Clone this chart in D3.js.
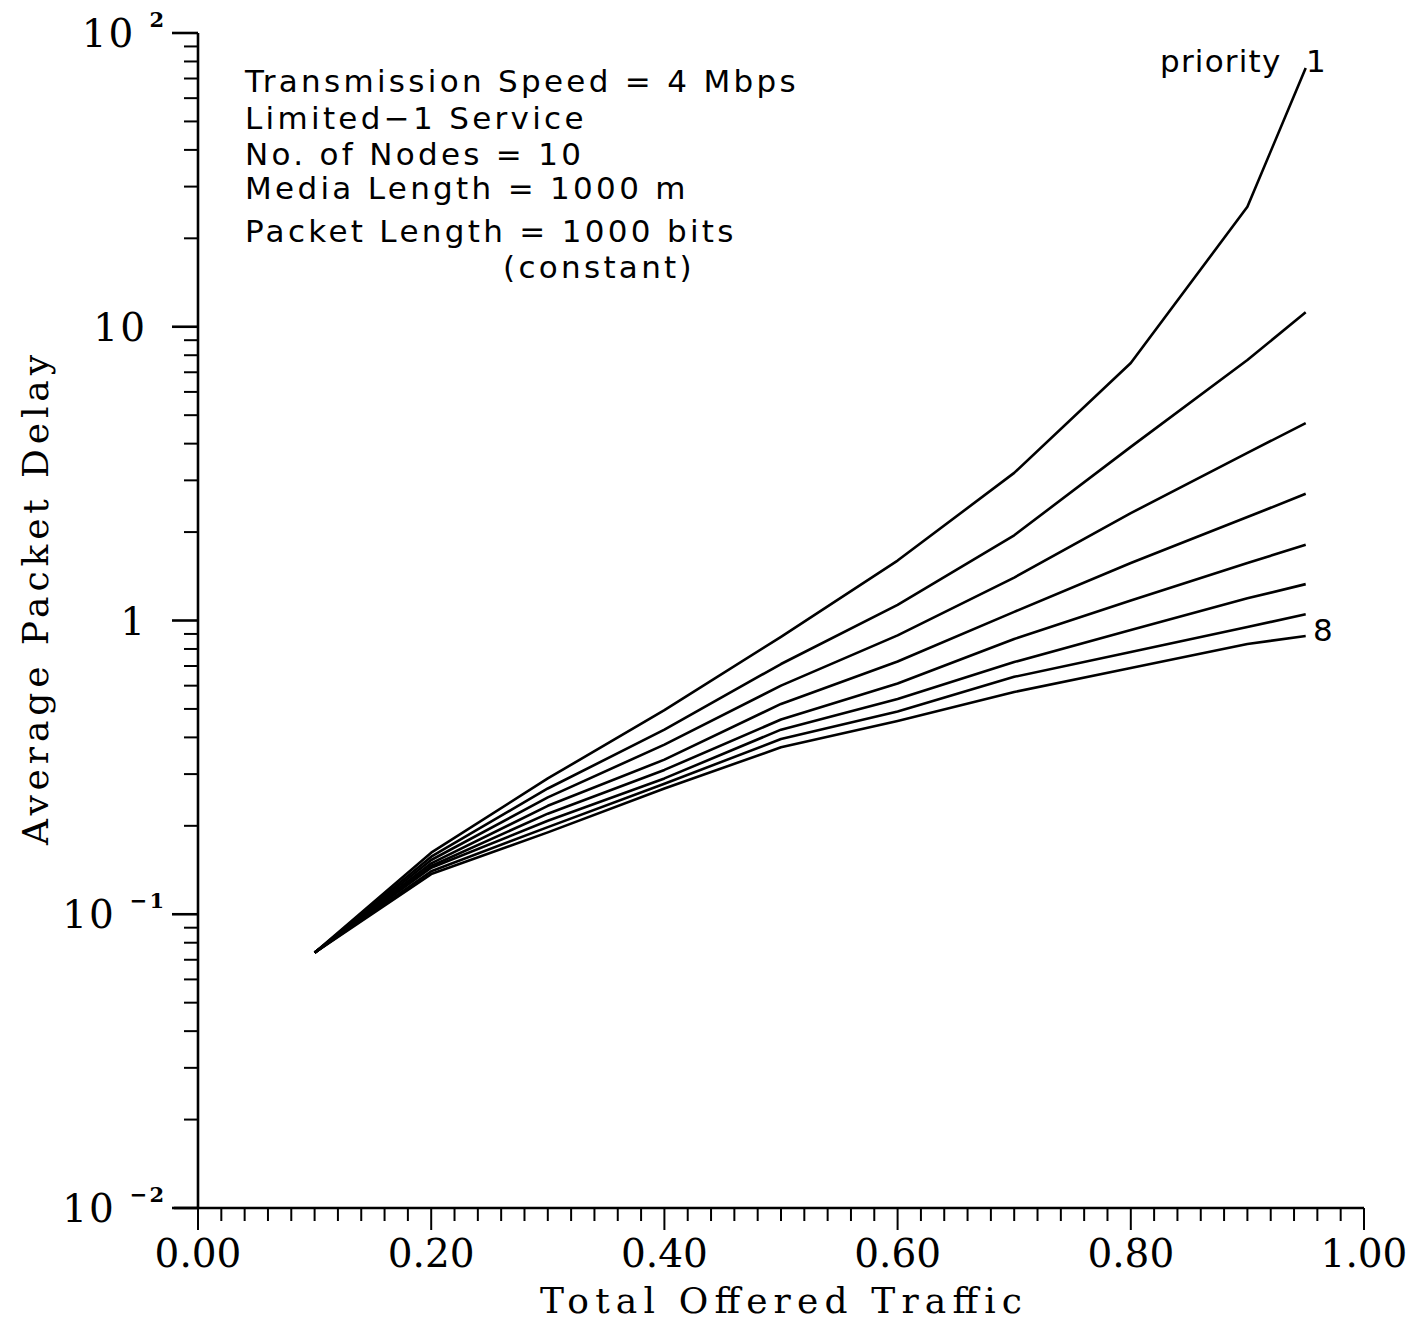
<!DOCTYPE html>
<html lang="en">
<head>
<meta charset="UTF-8">
<title>Average Packet Delay vs Total Offered Traffic</title>
<script src="https://d3js.org/d3.v7.min.js"></script>
<style>
    body { margin: 0; background: #fff; }
    svg { display: block; }
    .tick-label { font-family: "DejaVu Serif", serif; font-size: 39px; fill: #000; }
    .axis-title { font-family: "DejaVu Serif", serif; font-size: 36px; fill: #000; }
    .note { font-family: "DejaVu Sans", sans-serif; font-size: 31px; fill: #000; }
    .curve { fill: none; stroke: #000; stroke-width: 2.6px; stroke-linejoin: round; }
    .axis-line { stroke: #000; stroke-width: 2.6px; }
</style>
</head>
<body>
<svg id="chart" width="1407" height="1326"></svg>
<script>
// --- data ---
const traffic = [0.10, 0.20, 0.30, 0.40, 0.50, 0.60, 0.70, 0.80, 0.90, 0.95];

const priority1 = [0.074, 0.162, 0.290, 0.495, 0.880, 1.60, 3.18, 7.53, 25.6, 76];
const priority2 = [0.074, 0.157, 0.268, 0.425, 0.711, 1.13, 1.95, 3.90, 7.71, 11.2];
const priority3 = [0.074, 0.153, 0.250, 0.378, 0.600, 0.890, 1.40, 2.32, 3.72, 4.70];
const priority4 = [0.074, 0.149, 0.234, 0.336, 0.520, 0.725, 1.07, 1.57, 2.25, 2.70];
const priority5 = [0.074, 0.146, 0.220, 0.310, 0.460, 0.610, 0.865, 1.17, 1.57, 1.81];
const priority6 = [0.074, 0.144, 0.208, 0.290, 0.425, 0.540, 0.722, 0.929, 1.19, 1.33];
const priority7 = [0.074, 0.140, 0.198, 0.278, 0.395, 0.490, 0.643, 0.781, 0.950, 1.05];
const priority8 = [0.074, 0.137, 0.190, 0.268, 0.370, 0.455, 0.571, 0.689, 0.832, 0.885];

const series = [priority1, priority2, priority3, priority4, priority5, priority6, priority7, priority8];

const xMajorTicks = [0, 0.2, 0.4, 0.6, 0.8, 1.0];
const yMajorTicks = [0.01, 0.1, 1, 10, 100];
const yTickBase = ["10", "10", "1", "10", "10"];
const yTickExp = ["\u22122", "\u22121", "", "", "2"];

const noteLines = [
    "Transmission Speed = 4 Mbps",
    "Limited\u22121 Service",
    "No. of Nodes = 10",
    "Media Length = 1000 m",
    "Packet Length = 1000 bits",
    "(constant)"
];

const xTitle = "Total Offered Traffic";
const yTitle = "Average Packet Delay";

// --- scales ---
const svg = d3.select("#chart");
const x = d3.scaleLinear().domain([0, 1]).range([198, 1364]);
const y = d3.scaleLog().domain([0.01, 100]).range([1208, 33]);

// axis lines
svg.append("line").attr("class", "axis-line")
    .attr("x1", x(0)).attr("x2", x(0)).attr("y1", y(100)).attr("y2", y(0.01));
svg.append("line").attr("class", "axis-line")
    .attr("x1", x(0) - 24).attr("x2", x(1)).attr("y1", y(0.01)).attr("y2", y(0.01));

// x ticks (every 0.02, longer at 0.2)
const xMinor = d3.range(0, 51).map(i => i * 0.02);
svg.selectAll(".xtick").data(xMinor).enter().append("line")
    .attr("class", "axis-line")
    .style("stroke-width", "2px")
    .attr("x1", d => x(d)).attr("x2", d => x(d))
    .attr("y1", y(0.01))
    .attr("y2", (d, i) => y(0.01) + (i % 10 === 0 ? 22 : 13));

svg.selectAll(".xlabel").data(xMajorTicks).enter().append("text")
    .attr("class", "tick-label")
    .attr("x", d => x(d)).attr("y", 1267)
    .attr("text-anchor", "middle")
    .text(d => d3.format(".2f")(d));

// y ticks: decades plus 2..9 minors
const yMinor = [];
for (let e = -2; e < 2; e++) {
    for (let m = 2; m <= 9; m++) yMinor.push(m * Math.pow(10, e));
}
svg.selectAll(".ymin").data(yMinor).enter().append("line")
    .attr("class", "axis-line")
    .style("stroke-width", "2px")
    .attr("x1", x(0) - 14).attr("x2", x(0))
    .attr("y1", d => y(d)).attr("y2", d => y(d));
svg.selectAll(".ymaj").data(yMajorTicks).enter().append("line")
    .attr("class", "axis-line")
    .attr("x1", x(0) - 26).attr("x2", x(0))
    .attr("y1", d => y(d)).attr("y2", d => y(d));

const expOf = d => yTickExp[yMajorTicks.indexOf(d)];
const baseOf = d => yTickBase[yMajorTicks.indexOf(d)];

const yl = svg.selectAll(".ylabel").data(yMajorTicks).enter().append("text")
    .attr("class", "tick-label")
    .attr("text-anchor", "end")
    .attr("x", d => expOf(d) ? 166 : 147)
    .attr("y", d => y(d) + 14)
    .style("letter-spacing", "2px");
yl.append("tspan").text(baseOf);
yl.filter(d => expOf(d) !== "")
    .append("tspan")
    .attr("dx", 14).attr("dy", -20)
    .style("font-size", "21px")
    .style("font-weight", "bold")
    .text(expOf);

// axis titles
svg.append("text").attr("class", "axis-title")
    .attr("x", 781).attr("y", 1313)
    .attr("text-anchor", "middle")
    .attr("textLength", 482).attr("lengthAdjust", "spacing")
    .text(xTitle);
svg.append("text").attr("class", "axis-title")
    .attr("transform", "translate(48,600) rotate(-90)")
    .attr("text-anchor", "middle")
    .attr("textLength", 490).attr("lengthAdjust", "spacing")
    .text(yTitle);

// curves
const line = d3.line()
    .x((d, i) => x(traffic[i]))
    .y(d => y(d))
    .curve(d3.curveLinear);
svg.selectAll(".curve").data(series).enter().append("path")
    .attr("class", "curve")
    .attr("d", line);

// parameter notes
const noteY = [92, 129, 165, 199, 242, 278];
svg.selectAll(".note").data(noteLines).enter().append("text")
    .attr("class", "note")
    .attr("x", (d, i) => i === noteLines.length - 1 ? 503 : 245)
    .attr("y", (d, i) => noteY[i])
    .style("letter-spacing", "3.3px")
    .attr("xml:space", "preserve")
    .text(d => d);

// curve labels
svg.append("text").attr("class", "note")
    .attr("x", 1160).attr("y", 72)
    .style("letter-spacing", "1.2px")
    .text("priority");
svg.append("text").attr("class", "note")
    .attr("x", 1306).attr("y", 72)
    .text("1");
svg.append("text").attr("class", "note")
    .attr("x", 1313).attr("y", 641)
    .text("8");
</script>
</body>
</html>
